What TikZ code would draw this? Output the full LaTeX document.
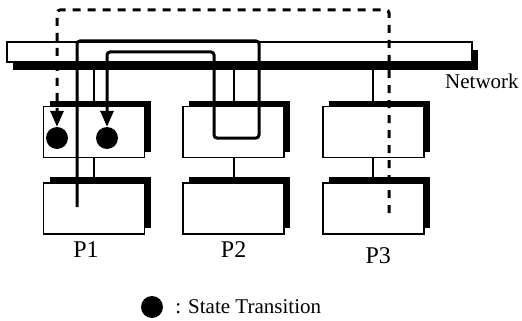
\documentclass[tikz,border=0pt]{standalone}
\usepackage{fontspec}
\setmainfont{Liberation Serif}
\usetikzlibrary{arrows.meta,positioning,shadows}

\begin{document}
\begin{tikzpicture}[
    x=1pt, y=-1pt,
    proc/.style={draw, line width=1.6pt, fill=white, minimum width=101pt, minimum height=51pt, inner sep=0pt,
      drop shadow={shadow xshift=6pt, shadow yshift=6pt, fill=black, opacity=1}},
    bus/.style={draw, line width=1.4pt, fill=white, minimum width=465pt, minimum height=20pt, inner sep=0pt,
      drop shadow={shadow xshift=6pt, shadow yshift=-8pt, fill=black, opacity=1}},
    state/.style={circle, fill=black, minimum size=22pt, inner sep=0pt},
    plabel/.style={font=\fontsize{24}{28}\selectfont, inner sep=0pt},
    lbl/.style={font=\fontsize{21}{25}\selectfont, inner sep=0pt},
    link/.style={line width=2pt},
    msg/.style={line width=3pt, rounded corners=3pt, -{Triangle[length=16pt, width=13pt]}},
    reply/.style={msg, dash pattern=on 8pt off 7pt}
  ]
    \useasboundingbox (0,0) rectangle (522,321);

    \node[bus] (net) at (239.5,52) {};
    \node[lbl, anchor=west] (netlbl) at (445,81) {Network};

    \node[proc] (p1top) at (94,132) {};
    \node[proc, right=37pt of p1top] (p2top) {};
    \node[proc, right=37pt of p2top] (p3top) {};
    \node[proc, below=24pt of p1top] (p1bot) {};
    \node[proc, below=24pt of p2top] (p2bot) {};
    \node[proc, below=24pt of p3top] (p3bot) {};

    \node[plabel, below=7pt of p1bot, xshift=-8pt] (l1) {P1};
    \node[plabel, below=7pt of p2bot] (l2) {P2};
    \node[plabel, below=13pt of p3bot, xshift=5pt] (l3) {P3};

    \node[state] (st1) at (57,138) {};
    \node[state] (st2) at (107,138) {};

    \node[state] (legdot) at (152,307) {};
    \node[lbl, right=12pt of legdot] (legtxt) {: State Transition};

    \coordinate (sendA) at (77,207);
    \coordinate (sendB) at (389,213);

    % network taps
    \draw[link] (p1top.north) -- (p1top.north |- net.south);
    \draw[link] (p2top.north) -- (p2top.north |- net.south);
    \draw[link] (p3top.north) -- (p3top.north |- net.south);
    \draw[link] (p1top) -- (p1bot);
    \draw[link] (p2top) -- (p2bot);
    \draw[link] (p3top) -- (p3bot);

    % messages
    \draw[msg] (sendA) |- (259,41) |- (214,138) |- (107,52) -- (st2);
    \draw[reply] (sendB) |- (57,10) -- (st1);
  \end{tikzpicture}
\end{document}
